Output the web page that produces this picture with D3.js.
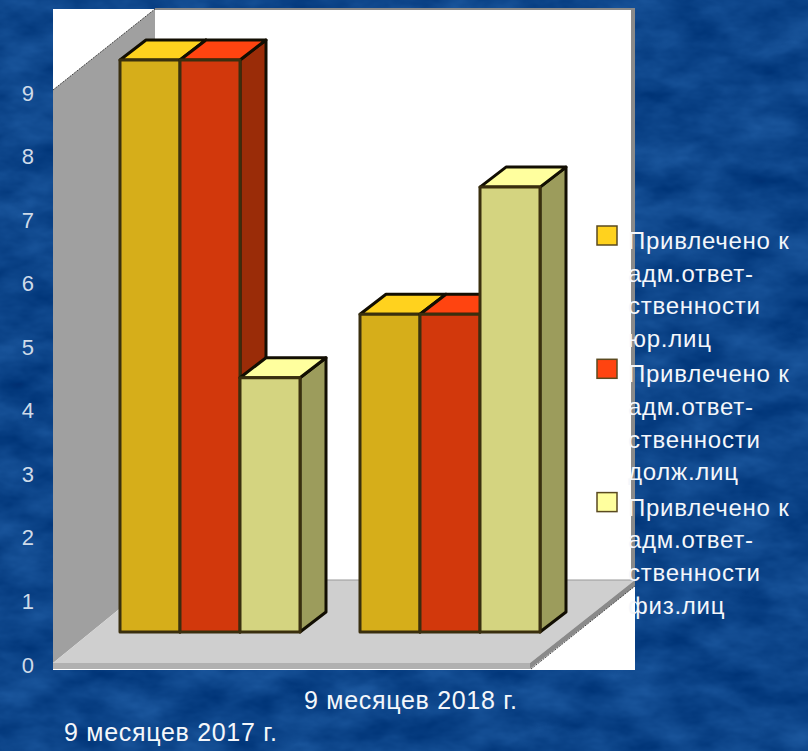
<!DOCTYPE html>
<html>
<head>
<meta charset="utf-8">
<script src="https://cdn.jsdelivr.net/npm/d3@7"></script>
<style>
  html, body { margin: 0; padding: 0; background: #10478f; overflow: hidden; }
  text { font-family: "Liberation Sans", Arial, sans-serif; fill: #f4f7fb; }
  .tick text { fill: #cfdbe9; }
</style>
</head>
<body>
<div id="chart"></div>
<script>
var categories = ["9 месяцев 2017 г.", "9 месяцев 2018 г."];
var seriesNames = ["jur", "dolzh", "fiz"];
var jurValues = [9, 5];
var dolzhValues = [9, 5];
var fizValues = [4, 7];
var yTicks = [0, 1, 2, 3, 4, 5, 6, 7, 8, 9];
var legendLabels = [
  ["Привлечено к", "адм.ответ-", "ственности", "юр.лиц"],
  ["Привлечено к", "адм.ответ-", "ственности", "долж.лиц"],
  ["Привлечено к", "адм.ответ-", "ственности", "физ.лиц"]
];
var seriesValues = [jurValues, dolzhValues, fizValues];

var width = 808, height = 751;
var colors = {
  jur:   {front: "#d6ae1a", top: "#ffd21e", side: "#9a7d12"},
  dolzh: {front: "#d2380c", top: "#ff4410", side: "#9a2c08"},
  fiz:   {front: "#d4d480", top: "#ffff9e", side: "#9c9c5c"}
};
var depth = {x: 26, y: -20};
var lineColor = "#3a2f0e";
var outerLine = "#120e02";

var svg = d3.select("#chart").append("svg")
  .attr("width", width)
  .attr("height", height)
  .style("display", "block");

// mottled blue slide background
var filter = svg.append("defs").append("filter")
  .attr("id", "slide")
  .attr("x", 0).attr("y", 0).attr("width", "100%").attr("height", "100%")
  .attr("color-interpolation-filters", "sRGB");
filter.append("feTurbulence")
  .attr("type", "fractalNoise")
  .attr("baseFrequency", "0.018 0.035")
  .attr("numOctaves", 4)
  .attr("seed", 7);
filter.append("feColorMatrix")
  .attr("values", "0.16 0 0 0 -0.03  0.2 0 0 0 0.17  0.22 0 0 0 0.43  0 0 0 0 1");

svg.append("rect")
  .attr("width", width)
  .attr("height", height)
  .attr("filter", "url(#slide)");

// chart panel
svg.append("rect")
  .attr("x", 53).attr("y", 9)
  .attr("width", 582).attr("height", 661)
  .attr("fill", "#ffffff");

function poly(points, fill, stroke, strokeWidth) {
  return svg.append("polygon")
    .attr("points", points.map(function(p){ return p.join(","); }).join(" "))
    .attr("fill", fill)
    .attr("stroke", stroke || "none")
    .attr("stroke-width", strokeWidth || 0)
    .attr("stroke-linejoin", "round");
}

// 3d box: left wall, floor, back wall edges
poly([[53, 90], [155, 9], [155, 580], [53, 663]], "#a0a0a0");
poly([[53, 663], [155, 580], [635, 580], [530, 663]], "#cfcfcf");
poly([[53, 663], [530, 663], [530, 669], [53, 669]], "#b0b0b0");
poly([[530, 669], [530, 663], [635, 580], [635, 586]], "#8a8a8a");
svg.append("line").attr("x1", 53).attr("y1", 90).attr("x2", 155).attr("y2", 9)
  .attr("stroke", "#444").attr("stroke-width", 1).attr("stroke-dasharray", "2 1");
svg.append("line").attr("x1", 531).attr("y1", 669).attr("x2", 635).attr("y2", 586)
  .attr("stroke", "#444").attr("stroke-width", 1).attr("stroke-dasharray", "2 1");
svg.append("line").attr("x1", 155).attr("y1", 9).attr("x2", 635).attr("y2", 9)
  .attr("stroke", "#8a8a8a").attr("stroke-width", 2);
svg.append("line").attr("x1", 155).attr("y1", 580).attr("x2", 635).attr("y2", 580)
  .attr("stroke", "#999").attr("stroke-width", 1);
svg.append("rect").attr("x", 631).attr("y", 9).attr("width", 4).attr("height", 571)
  .attr("fill", "#8a8a8a");

// scales
var yScale = d3.scaleLinear().domain([0, 9]).range([632, 60]);
var yLabelScale = d3.scaleLinear().domain([0, 9]).range([665, 93]);
var xGroup = d3.scaleBand().domain(categories).range([120, 600]).paddingInner(0).paddingOuter(0);
var xBar = d3.scaleBand().domain(seriesNames).range([0, 180]);

categories.forEach(function(cat, c){
  seriesNames.forEach(function(name, s){
    var v = seriesValues[s][c];
    var x0 = xGroup(cat) + xBar(name);
    var x1 = x0 + xBar.bandwidth();
    var y0 = yScale(v);
    var y1 = yScale(0);
    var col = colors[name];
    poly([[x1, y0], [x1 + depth.x, y0 + depth.y], [x1 + depth.x, y1 + depth.y], [x1, y1]], col.side, outerLine, 3);
    poly([[x0, y0], [x0 + depth.x, y0 + depth.y], [x1 + depth.x, y0 + depth.y], [x1, y0]], col.top, outerLine, 3);
    poly([[x0, y0], [x1, y0], [x1, y1], [x0, y1]], col.front, lineColor, 3);
  });
});

// y axis labels
var yAxis = d3.axisLeft(yLabelScale).tickValues(yTicks).tickSize(0).tickPadding(0).tickFormat(d3.format("d"));
var yG = svg.append("g").attr("transform", "translate(34,0)").call(yAxis);
yG.select(".domain").remove();
yG.selectAll("text").attr("font-size", 22).attr("font-family", null).attr("fill", null);

// category labels sit on two staggered rows
var catLabelX = [64, 304];
var catLabelY = [741, 709];
svg.selectAll(".cat").data(categories).enter().append("text")
  .attr("class", "cat")
  .attr("x", function(d, i){ return catLabelX[i]; })
  .attr("y", function(d, i){ return catLabelY[i]; })
  .attr("font-size", 25)
  .attr("letter-spacing", 0.7)
  .text(function(d){ return d; });

// legend
var legendG = svg.selectAll(".legend").data(seriesNames).enter().append("g")
  .attr("class", "legend")
  .attr("transform", function(d, i){ return "translate(0," + (i * 133.3) + ")"; });
legendG.append("rect")
  .attr("x", 597).attr("y", 226)
  .attr("width", 20).attr("height", 19)
  .attr("fill", function(d){ return colors[d].top; })
  .attr("stroke", "#5a4a20").attr("stroke-width", 1.5);
legendG.each(function(d, i){
  d3.select(this).selectAll("text").data(legendLabels[i]).enter().append("text")
    .attr("x", 628)
    .attr("y", function(t, j){ return 249 + j * 32.7; })
    .attr("font-size", 24)
    .attr("letter-spacing", 0.75)
    .text(function(t){ return t; });
});
</script>
</body>
</html>
